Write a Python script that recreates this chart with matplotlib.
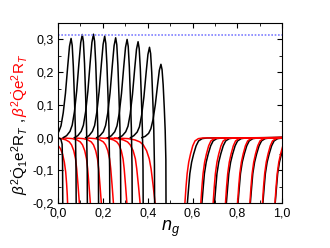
import matplotlib
matplotlib.use('Agg')
import matplotlib.pyplot as plt

plt.rcParams['font.family'] = ['Liberation Sans', 'DejaVu Sans']
plt.rcParams['mathtext.fontset'] = 'custom'
plt.rcParams['mathtext.rm'] = 'Liberation Sans'
plt.rcParams['mathtext.it'] = 'Liberation Sans:italic'

# black branches (left half): x and y
black_x = [
    [0.000, 0.012, 0.018, 0.020, 0.021],
    [-0.027, -0.012, 0.003, 0.013, 0.023, 0.033, 0.043, 0.051, 0.058, 0.063, 0.068, 0.073, 0.077, 0.080, 0.081],
    [0.023, 0.038, 0.053, 0.063, 0.073, 0.083, 0.093, 0.101, 0.108, 0.113, 0.118, 0.123, 0.127, 0.130, 0.131],
    [0.073, 0.088, 0.103, 0.113, 0.123, 0.133, 0.143, 0.151, 0.158, 0.163, 0.168, 0.173, 0.177, 0.180, 0.181],
    [0.123, 0.138, 0.153, 0.163, 0.173, 0.183, 0.193, 0.201, 0.208, 0.213, 0.218, 0.223, 0.227, 0.230, 0.231],
    [0.172, 0.187, 0.202, 0.212, 0.222, 0.232, 0.242, 0.250, 0.257, 0.262, 0.267, 0.272, 0.276, 0.279, 0.280],
    [0.223, 0.238, 0.253, 0.263, 0.273, 0.283, 0.293, 0.301, 0.308, 0.313, 0.318, 0.323, 0.327, 0.330, 0.331],
    [0.272, 0.287, 0.302, 0.312, 0.322, 0.332, 0.342, 0.350, 0.357, 0.362, 0.367, 0.372, 0.376, 0.379, 0.380],
    [0.323, 0.338, 0.353, 0.363, 0.373, 0.383, 0.393, 0.401, 0.408, 0.413, 0.418, 0.423, 0.427, 0.430, 0.431],
    [0.374, 0.389, 0.404, 0.414, 0.424, 0.434, 0.444, 0.452, 0.459, 0.464, 0.469, 0.474, 0.478, 0.481, 0.482],
]
black_y = [
    [0.000, -0.004, -0.020, -0.080, -0.220],
    [0.0, 0.006, 0.018, 0.036, 0.076, 0.136, 0.218, 0.279, 0.303, 0.282, 0.218, 0.121, 0.030, -0.091, -0.242],
    [0.0, 0.006, 0.019, 0.038, 0.079, 0.142, 0.227, 0.290, 0.315, 0.293, 0.227, 0.126, 0.032, -0.095, -0.252],
    [0.0, 0.006, 0.019, 0.038, 0.079, 0.142, 0.228, 0.291, 0.316, 0.294, 0.228, 0.126, 0.032, -0.095, -0.253],
    [0.0, 0.006, 0.019, 0.037, 0.078, 0.140, 0.223, 0.285, 0.310, 0.288, 0.223, 0.124, 0.031, -0.093, -0.248],
    [0.0, 0.006, 0.018, 0.037, 0.076, 0.137, 0.220, 0.281, 0.305, 0.284, 0.220, 0.122, 0.031, -0.092, -0.244],
    [0.0, 0.006, 0.018, 0.036, 0.075, 0.135, 0.216, 0.276, 0.300, 0.279, 0.216, 0.120, 0.030, -0.090, -0.240],
    [0.0, 0.006, 0.018, 0.035, 0.073, 0.132, 0.211, 0.270, 0.293, 0.272, 0.211, 0.117, 0.029, -0.088, -0.234],
    [0.0, 0.006, 0.017, 0.033, 0.069, 0.124, 0.199, 0.254, 0.276, 0.257, 0.199, 0.110, 0.028, -0.083, -0.221],
    [0.0, 0.004, 0.013, 0.027, 0.056, 0.101, 0.161, 0.206, 0.224, 0.208, 0.161, 0.090, 0.022, -0.067, -0.260],
]

# red branches (left half)
red_x = [
    [0.000, 0.010, 0.020, 0.028, 0.034, 0.038, 0.041, 0.043],
    [-0.025, 0.015, 0.035, 0.050, 0.060, 0.070, 0.078, 0.083, 0.089, 0.095, 0.098],
    [0.024, 0.064, 0.084, 0.099, 0.109, 0.119, 0.127, 0.132, 0.138, 0.144, 0.147],
    [0.073, 0.113, 0.133, 0.148, 0.158, 0.168, 0.176, 0.181, 0.187, 0.193, 0.196],
    [0.127, 0.167, 0.187, 0.202, 0.212, 0.222, 0.230, 0.235, 0.241, 0.247, 0.250],
    [0.187, 0.227, 0.247, 0.262, 0.272, 0.282, 0.290, 0.295, 0.301, 0.307, 0.310],
    [0.216, 0.266, 0.291, 0.310, 0.322, 0.335, 0.345, 0.351, 0.3585, 0.366, 0.370],
    [0.253, 0.313, 0.343, 0.365, 0.380, 0.395, 0.407, 0.415, 0.424, 0.433, 0.437],
]
red_y_first = [-0.024, -0.033, -0.050, -0.075, -0.105, -0.140, -0.175, -0.210]
red_y_rest = [-0.001, -0.003, -0.007, -0.013, -0.022, -0.040, -0.065, -0.095, -0.145, -0.200, -0.240]

# right half: red and black rising branches
right_red_x = [
    [0.563, 0.566, 0.571, 0.576, 0.583, 0.591, 0.601, 0.611, 0.626, 0.646, 1.0],
    [0.634, 0.637, 0.642, 0.647, 0.654, 0.662, 0.672, 0.682, 0.697, 0.717, 1.0],
    [0.689, 0.692, 0.697, 0.702, 0.709, 0.717, 0.727, 0.737, 0.752, 0.772, 1.0],
    [0.744, 0.747, 0.752, 0.757, 0.764, 0.772, 0.782, 0.792, 0.807, 0.827, 1.0],
    [0.798, 0.801, 0.806, 0.811, 0.818, 0.826, 0.836, 0.846, 0.861, 0.881, 1.0],
    [0.853, 0.856, 0.861, 0.866, 0.873, 0.881, 0.891, 0.901, 0.916, 0.936, 1.0],
    [0.909, 0.912, 0.917, 0.922, 0.929, 0.937, 0.947, 0.957, 0.972, 0.992, 1.0],
    [0.965, 0.968, 0.973, 0.978, 0.985, 0.993, 1.003, 1.013, 1.028, 1.048],
]
right_black_x = [
    [0.574, 0.577, 0.583, 0.588, 0.596, 0.605, 0.616, 0.627, 0.643, 0.665, 1.0],
    [0.639, 0.642, 0.648, 0.653, 0.661, 0.670, 0.681, 0.692, 0.708, 0.730, 1.0],
    [0.695, 0.698, 0.704, 0.709, 0.717, 0.726, 0.737, 0.748, 0.764, 0.786, 1.0],
    [0.748, 0.751, 0.757, 0.762, 0.770, 0.779, 0.790, 0.801, 0.817, 0.839, 1.0],
    [0.800, 0.803, 0.809, 0.814, 0.822, 0.831, 0.842, 0.853, 0.869, 0.891, 1.0],
    [0.855, 0.858, 0.864, 0.869, 0.877, 0.886, 0.897, 0.908, 0.924, 0.946, 1.0],
    [0.911, 0.914, 0.920, 0.925, 0.933, 0.942, 0.953, 0.964, 0.980, 1.002],
    [0.966, 0.969, 0.975, 0.980, 0.988, 0.997, 1.008, 1.019, 1.035, 1.057],
]
right_y = [-0.240, -0.200, -0.150, -0.110, -0.075, -0.050, -0.025, -0.010, -0.003, -0.001, 0.0]

limit_value = 0.314

x_ticks = [0.0, 0.2, 0.4, 0.6, 0.8, 1.0]
x_ticklabels = ['0,0', '0,2', '0,4', '0,6', '0,8', '1,0']
y_ticks = [-0.2, -0.1, 0.0, 0.1, 0.2, 0.3]
y_ticklabels = ['-0,2', '-0,1', '0,0', '0,1', '0,2', '0,3']

fig = plt.figure(figsize=(3.3, 2.48), dpi=100)
ax = fig.add_axes([0.176, 0.181, 0.679, 0.726])

for xs in red_x:
    ys = red_y_first if len(xs) == len(red_y_first) else red_y_rest
    ax.plot(xs, ys, color='red', lw=1.1)
for xs, ys in zip(black_x, black_y):
    ax.plot(xs, ys, color='black', lw=1.1)
for xs in right_black_x:
    ax.plot(xs, right_y[:len(xs)], color='black', lw=1.1)
for xs in right_red_x:
    ax.plot(xs, right_y[:len(xs)], color='red', lw=1.1)

ax.axhline(limit_value, color='#7f7fff', lw=1.2, ls=(0, (1.0, 1.0)))

ax.set_xlim(0, 1)
ax.set_ylim(-0.2, 0.35)
ax.set_xticks(x_ticks)
ax.set_xticklabels(x_ticklabels)
ax.set_yticks(y_ticks)
ax.set_yticklabels(y_ticklabels)
ax.set_xticks([0.1, 0.3, 0.5, 0.7, 0.9], minor=True)
ax.set_yticks([-0.15, -0.05, 0.05, 0.15, 0.25], minor=True)
ax.tick_params(which='both', direction='in', top=True, right=True, labelsize=9, pad=3)
ax.tick_params(which='major', length=3.5)
ax.tick_params(which='minor', length=2.5)
ax.set_xlabel(r'$n_g$', fontsize=13, labelpad=0)

t1 = fig.text(20 / 330, (248 - 195) / 248,
              r'$\beta^2\dot{\mathrm{Q}}_1\mathrm{e}^2\mathrm{R}_T$ , ',
              rotation=90, ha='center', va='bottom', fontsize=11, color='black')
fig.canvas.draw()
bb = t1.get_window_extent().transformed(fig.transFigure.inverted())
fig.text(20 / 330, bb.y1, r'$\beta^2\dot{\mathrm{Q}}\mathrm{e}^2\mathrm{R}_T$',
         rotation=90, ha='center', va='bottom', fontsize=11, color='red')

fig.savefig('out.png', dpi=100)
